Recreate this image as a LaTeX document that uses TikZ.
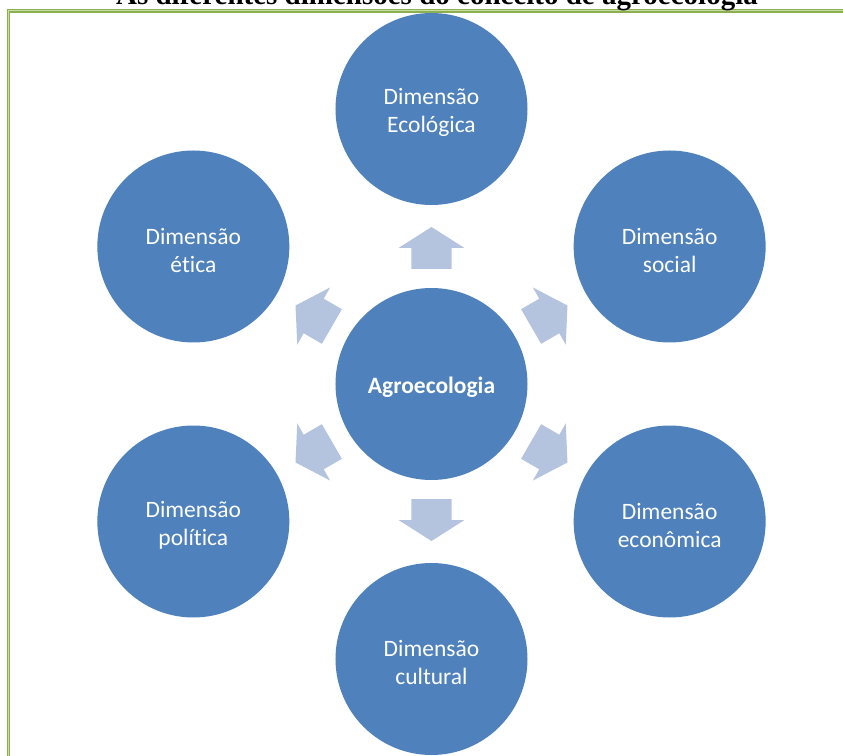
\documentclass[tikz,border=0pt]{standalone}
\usepackage{fontspec}
\setmainfont{Carlito}[Ligatures=NoCommon]
\newfontfamily\titlefont{Liberation Serif}
\usetikzlibrary{positioning}
\definecolor{cbubble}{HTML}{4F81BD}
\definecolor{carrow}{HTML}{B4C4DF}
\definecolor{cframe}{HTML}{8CB050}
\definecolor{cframelight}{HTML}{C9DCA6}
\tikzset{
  every picture/.style={x=1bp, y=1bp},
  bubble/.style={circle, fill=cbubble, text=white, minimum size=192bp, inner sep=0pt, align=center,
                 text height=52bp, font=\fontsize{23.5bp}{28bp}\selectfont},
  blockarrow/.style={fill=carrow},
  title/.style={font=\titlefont\bfseries\fontsize{29bp}{34bp}\selectfont, anchor=base},
  frame/.style={draw=cframe, line width=1.3bp, double=cframelight, double distance=1bp},
}

\begin{document}
\begin{tikzpicture}
  \useasboundingbox (-431.5,-372) rectangle (411.5,384);
  % page frame and heading
  \draw[frame] (-423,-400) -- (-423,373) -- (440,373);
  \node[title] (head) at (5.5,379) {As diferentes dimensões do conceito de agroecologia};

  \node[bubble, text height=22.5bp, font=\fontsize{23.5bp}{28bp}\selectfont\bfseries] (hub) at (0,0) {Agroecologia};
  \foreach \ang/\name/\txt in {90/eco/{Dimensão\\Ecológica}, 30/soc/{Dimensão\\social},
                              -30/econ/{Dimensão\\econômica}, -90/cult/{Dimensão\\cultural},
                              210/pol/{Dimensão\\política}, 150/etica/{Dimensão\\ética}}
  {
    \node[bubble] (\name) at (\ang:275) {\txt};
    % block arrow pointing out of the hub
    \fill[blockarrow, rotate=\ang] (115,-20) -- (136,-20) -- (136,-33) -- (157,0)
         -- (136,33) -- (136,20) -- (115,20) -- cycle;
  }
\end{tikzpicture}
\end{document}
